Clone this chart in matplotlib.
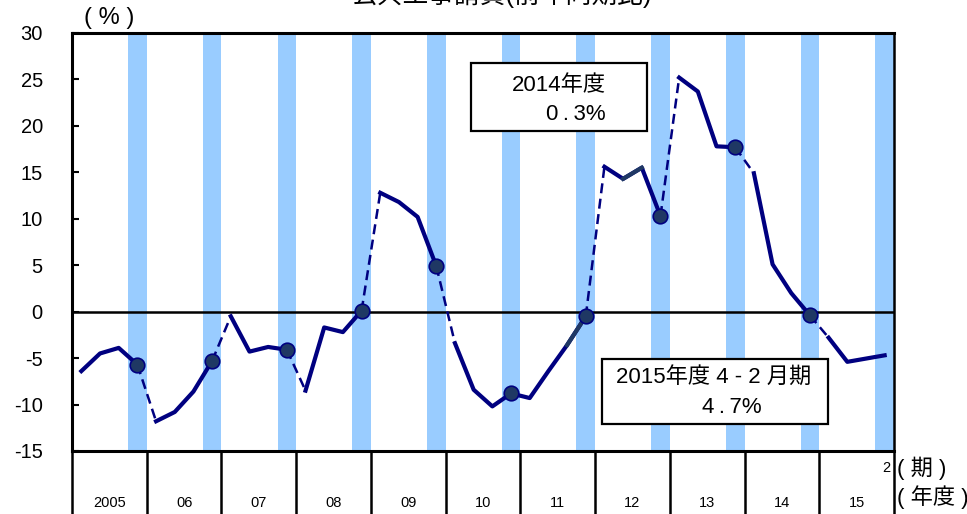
import numpy as np
import matplotlib
matplotlib.use('Agg')
from matplotlib import pyplot as plt
from matplotlib.patches import Rectangle

plt.rcParams['font.family'] = ['Liberation Sans', 'Noto Sans CJK JP']

# fiscal years (labels under the axis)
years = ['2005', '06', '07', '08', '09', '10', '11', '12', '13', '14', '15']
# quarterly values, % yoy (Q1=Apr-Jun ... Q4=Jan-Mar); last one is Jan-Feb
vals_05 = [-6.4, -4.5, -3.9, -5.7]
vals_06 = [-11.8, -10.8, -8.6, -5.3]
vals_07 = [-0.5, -4.3, -3.8, -4.1]
vals_08 = [-8.5, -1.7, -2.2, 0.1]
vals_09 = [12.8, 11.8, 10.2, 4.9]
vals_10 = [-3.4, -8.4, -10.2, -8.8]
vals_11 = [-9.3, -6.4, -3.6, -0.5]
vals_12 = [15.6, 14.3, 15.5, 10.3]
vals_13 = [25.2, 23.7, 17.8, 17.7]
vals_14 = [14.9, 5.1, 2.0, -0.4]
vals_15 = [-2.8, -5.4, -5.05, -4.7]
yticks = [30, 25, 20, 15, 10, 5, 0, -5, -10, -15]

NAVY = '#000080'
SLATE = '#1F3864'
BAND = '#99CCFF'


def main():
    values = np.array(vals_05 + vals_06 + vals_07 + vals_08 + vals_09 + vals_10
                      + vals_11 + vals_12 + vals_13 + vals_14 + vals_15)
    n = len(values)
    x = np.arange(n) + 0.5

    fig = plt.figure(figsize=(9.67, 5.14), dpi=100)
    ax = fig.add_axes([72/967, 63/514, 822/967, 418/514])
    ax.set_xlim(0, 4*len(years))
    ax.set_ylim(-15, 30)

    # Jan-Mar bands
    for k in range(len(years)):
        ax.axvspan(4*k + 3, 4*k + 4, color=BAND, lw=0, zorder=0)
    ax.axhline(0, color='black', lw=1.8, zorder=1)

    # solid runs, dashed across fiscal year change (except 10->11)
    def dashed(i):
        return i % 4 == 3 and i != 23
    start = 0
    for i in range(n - 1):
        if dashed(i):
            ax.plot(x[start:i+1], values[start:i+1], color=NAVY, lw=3, zorder=3)
            ax.plot(x[i:i+2], values[i:i+2], color=NAVY, lw=1.8,
                    ls=(0, (4, 2.2)), zorder=3)
            start = i + 1
    ax.plot(x[start:], values[start:], color=NAVY, lw=3, zorder=3)
    for i in (26, 29):
        ax.plot(x[i:i+2], values[i:i+2], color=SLATE, lw=3, zorder=3)

    # Q4 markers
    m = np.arange(3, n - 1, 4)
    ax.plot(x[m], values[m], 'o', ms=10.5, mfc=SLATE, mec=NAVY, mew=1.2, zorder=4)

    # axes style
    ax.set_yticks(yticks)
    ax.set_yticklabels([str(t) for t in yticks], fontsize=14.5)
    ax.tick_params(axis='y', direction='in', length=5, width=1.5, pad=21)
    ax.set_xticks([])
    for s in ['left', 'top', 'bottom']:
        ax.spines[s].set_linewidth(2.2)
    ax.spines['right'].set_linewidth(1.8)

    # year table under the axis
    tr = ax.get_xaxis_transform()
    for k in range(len(years) + 1):
        ax.plot([4*k, 4*k], [0, -0.16], color='black', lw=1.8,
                transform=tr, clip_on=False)
    for k, lab in enumerate(years):
        ax.text(4*k + 2, -0.124, lab, transform=tr, ha='center', va='center',
                fontsize=10.5)
    ax.text(43.6, -0.041, '2', transform=tr, ha='center', va='center', fontsize=10.5)
    fig.text(897/967, 1 - 468/514, '( 期 )', ha='left', va='center', fontsize=16)
    fig.text(897/967, 1 - 497/514, '( 年度 )', ha='left', va='center', fontsize=16)
    fig.text(109/967, 1 - 18/514, '( % )', ha='center', va='center', fontsize=17)
    fig.text(502/967, 1 - 3/514, '公共工事請負(前年同期比)', ha='center',
             va='baseline', fontsize=18.5)

    # annotation boxes
    ax.add_patch(Rectangle((21.36, 19.4), 9.42, 7.4, fc='white', ec='black',
                           lw=1.6, zorder=5))
    ax.text(26.07, 24.4, '2014年度', ha='center', va='center', fontsize=16, zorder=6)
    ax.text(28.55, 21.2, '0\u2009.\u20093%', ha='right', va='center',
            fontsize=16, zorder=6)
    ax.add_patch(Rectangle((28.37, -12.06), 12.1, 7.0, fc='white', ec='black',
                           lw=1.6, zorder=5))
    ax.text(34.37, -7.1, '2015年度 4 - 2 月期', ha='center', va='center',
            fontsize=16, zorder=6)
    ax.text(35.3, -10.3, '4\u2009.\u20097%', ha='center', va='center',
            fontsize=16, zorder=6)

    fig.savefig('out.png', dpi=100)


if __name__ == '__main__':
    main()
